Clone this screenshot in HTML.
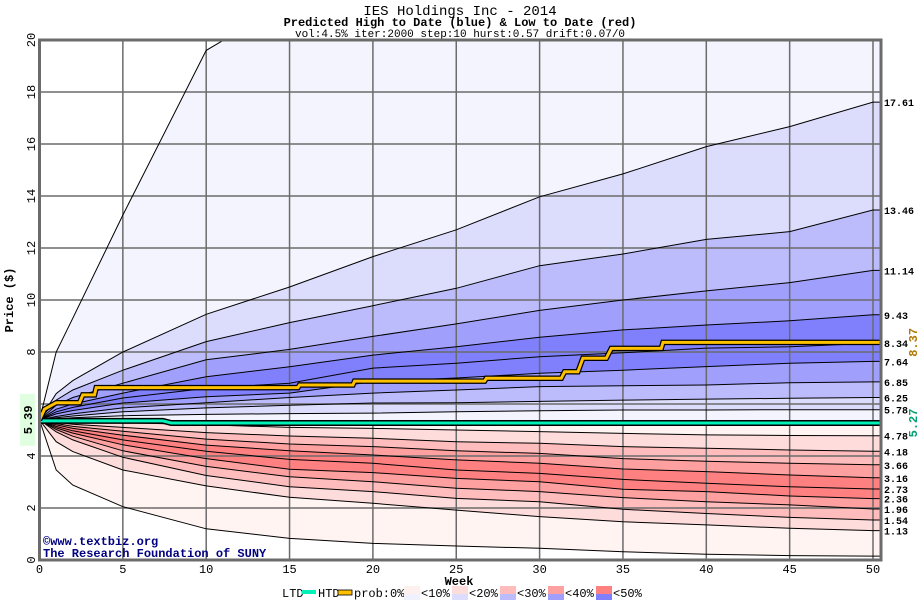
<!DOCTYPE html>
<html><head><meta charset="utf-8"><style>
body{margin:0;background:#fff;}
svg{display:block;font-family:"Liberation Mono","DejaVu Sans Mono",monospace;}
</style></head><body>
<svg id="chart" width="920" height="600" viewBox="0 0 920 600">
<defs><clipPath id="pc"><rect x="39.5" y="40" width="841.5" height="520"/></clipPath></defs>
<text x="460" y="15" text-anchor="middle" font-size="14">IES Holdings Inc - 2014</text>
<text x="460" y="26" text-anchor="middle" font-size="12" font-weight="bold">Predicted High to Date (blue) &amp;  Low to Date (red)</text>
<text x="460" y="37" text-anchor="middle" font-size="11">vol:4.5% iter:2000 step:10 hurst:0.57 drift:0.07/0</text>
<g id="bands" clip-path="url(#pc)"></g>
<g id="grid"></g>
<g id="lines" clip-path="url(#pc)"></g>
<g id="axes"></g>
<text transform="translate(13,300) rotate(-90)" text-anchor="middle" font-size="12" font-weight="bold">Price ($)</text>
<text x="459" y="585" text-anchor="middle" font-size="12" font-weight="bold">Week</text>
<text x="43" y="545" font-size="12" font-weight="bold" fill="#000080">©www.textbiz.org</text>
<text x="43" y="557" font-size="12" font-weight="bold" fill="#000080">The Research Foundation of SUNY</text>
<g id="legend"></g>
</svg>
<script>
const weeks=[0,1,2,5,10,15,20,25,30,35,40,45,50,50.5];
const upperMax=[5.39,8.0,9.3,13.27,19.6,21.5,23,24.5,26,27.5,29,30.5,32,32];
const upper1=[5.39,6.4,6.9,8.0,9.45,10.5,11.67,12.7,13.97,14.85,15.9,16.67,17.61,17.61];
const upper2=[5.39,6.15,6.54,7.3,8.4,9.13,9.78,10.45,11.32,11.77,12.33,12.63,13.46,13.46];
const upper3=[5.39,5.95,6.25,6.8,7.7,8.1,8.6,9.08,9.6,10.0,10.35,10.67,11.14,11.14];
const upper4=[5.39,5.8,6.0,6.42,7.05,7.43,7.88,8.2,8.57,8.85,9.04,9.2,9.43,9.43];
const upper5=[5.39,5.7,5.87,6.23,6.6,6.8,7.38,7.57,7.82,7.97,8.15,8.2,8.34,8.34];
const upper6=[5.39,5.62,5.75,6.04,6.28,6.42,6.86,7.0,7.18,7.3,7.44,7.57,7.64,7.64];
const upper7=[5.39,5.52,5.62,5.85,6.05,6.25,6.42,6.54,6.67,6.7,6.73,6.82,6.85,6.85];
const upper8=[5.39,5.47,5.54,5.7,5.85,5.95,6.04,6.05,6.1,6.15,6.19,6.22,6.25,6.25];
const upper9=[5.39,5.42,5.47,5.55,5.6,5.63,5.65,5.7,5.74,5.77,5.77,5.78,5.78,5.78];
const median=[5.39,5.34,5.33,5.33,5.33,5.33,5.33,5.33,5.33,5.33,5.33,5.33,5.33,5.33];
const lower1=[5.39,5.35,5.32,5.28,5.2,5.1,5.06,5.0,4.94,4.87,4.81,4.79,4.78,4.78];
const lower2=[5.39,5.3,5.22,5.1,4.9,4.77,4.68,4.55,4.49,4.36,4.3,4.23,4.18,4.18];
const lower3=[5.39,5.25,5.14,4.95,4.65,4.46,4.36,4.2,4.1,3.9,3.8,3.72,3.66,3.66];
const lower4=[5.39,5.2,5.06,4.8,4.42,4.2,4.04,3.85,3.72,3.5,3.4,3.27,3.16,3.16];
const lower5=[5.39,5.14,4.97,4.62,4.18,3.87,3.72,3.46,3.33,3.1,2.95,2.82,2.73,2.73];
const lower6=[5.39,5.08,4.88,4.43,3.9,3.49,3.36,3.14,3.01,2.72,2.63,2.46,2.36,2.36];
const lower7=[5.39,5.02,4.76,4.2,3.6,3.2,3.01,2.76,2.63,2.4,2.24,2.12,1.96,1.96];
const lower8=[5.39,4.93,4.62,3.95,3.25,2.82,2.63,2.37,2.24,1.95,1.79,1.64,1.54,1.54];
const lower9=[5.39,4.55,4.17,3.46,2.85,2.41,2.18,1.92,1.67,1.47,1.35,1.22,1.13,1.13];
const lowerMin=[5.39,3.46,2.88,2.05,1.2,0.83,0.64,0.54,0.45,0.32,0.22,0.17,0.15,0.15];
const ltdWeeks=[0,7.4,7.9,50.5];
const ltdValues=[5.35,5.35,5.27,5.27];
const htdWeeks=[0,0.3,1,2.4,2.6,3.3,3.4,15.5,15.6,18.8,18.9,26.7,26.8,31.3,31.5,32.3,32.6,34,34.3,37.3,37.4,50.5];
const htdValues=[5.39,5.8,6.05,6.05,6.35,6.35,6.63,6.63,6.73,6.73,6.88,6.88,6.99,6.99,7.24,7.24,7.76,7.76,8.14,8.14,8.37,8.37];
const xTicks=[0,5,10,15,20,25,30,35,40,45,50];
const yTicks=[0,2,4,6,8,10,12,14,16,18,20];
const rightLabels=["17.61","13.46","11.14","9.43","8.34","7.64","6.85","6.25","5.78","4.78","4.18","3.66","3.16","2.73","2.36","1.96","1.54","1.13"];
const legendLabels=["<10%","<20%","<30%","<40%","<50%"];

const NS="http://www.w3.org/2000/svg";
const X=w=>39.5+w*16.67, Y=v=>560-v*26;
function mk(tag,attrs,parent){const e=document.createElementNS(NS,tag);for(const k in attrs)e.setAttribute(k,attrs[k]);parent.appendChild(e);return e;}
const pts=(ws,vs)=>ws.map((w,i)=>X(w).toFixed(1)+","+Y(vs[i]).toFixed(1));
const ups=[upperMax,upper1,upper2,upper3,upper4,upper5,upper6,upper7,upper8,upper9,median];
const lows=[median,lower1,lower2,lower3,lower4,lower5,lower6,lower7,lower8,lower9,lowerMin];
const blue=["#f4f4ff","#dcdcfc","#bcbcfc","#a0a0fc","#8080fc","#8080fc","#a0a0fc","#bcbcfc","#dcdcfc","#f4f4ff"];
const red=["#fff4f2","#ffdcdc","#ffbcbc","#ffa0a0","#ff8080","#ff8080","#ffa0a0","#ffbcbc","#ffdcdc","#fff4f2"];
const bands=document.getElementById('bands');
function band(a,b,col,name){
  const p=pts(weeks,a).concat(pts(weeks,b).reverse());
  const e=mk('polygon',{points:p.join(' '),fill:col},bands);
  
  
}
for(let i=0;i<10;i++)band(ups[i],ups[i+1],blue[i],'high-band');
for(let i=0;i<10;i++)band(lows[i],lows[i+1],red[i],'low-band');
const grid=document.getElementById('grid');
xTicks.forEach(t=>{const l=mk('line',{x1:X(t),x2:X(t),y1:40,y2:560,stroke:'#6b6b6b','stroke-width':1.5},grid);
  
  });
yTicks.forEach(t=>{const l=mk('line',{x1:39.5,x2:881,y1:Y(t),y2:Y(t),stroke:'#6b6b6b','stroke-width':1.5},grid);
  
  });
const lines=document.getElementById('lines');
ups.concat(lows.slice(1)).forEach((s,i)=>{
  const l=mk('polyline',{points:pts(weeks,s).join(' '),fill:'none',stroke:'#000','stroke-width':1},lines);
  
  
});
let e=mk('polyline',{points:pts(ltdWeeks,ltdValues).join(' '),fill:'none',stroke:'#000','stroke-width':6},lines);


e=mk('polyline',{points:pts(ltdWeeks,ltdValues).join(' '),fill:'none',stroke:'#00f0b8','stroke-width':3},lines);


e=mk('polyline',{points:pts(htdWeeks,htdValues).join(' '),fill:'none',stroke:'#000','stroke-width':5.5},lines);


e=mk('polyline',{points:pts(htdWeeks,htdValues).join(' '),fill:'none',stroke:'#ffc000','stroke-width':3},lines);


const axes=document.getElementById('axes');
e=mk('rect',{x:39.5,y:40,width:841.5,height:520,fill:'none',stroke:'#6b6b6b','stroke-width':3},axes);


xTicks.forEach(t=>{const tx=mk('text',{x:X(t),y:573,'text-anchor':'middle','font-size':12},axes);tx.textContent=t;
  
  });
yTicks.forEach(t=>{const tx=mk('text',{transform:`translate(35,${Y(t)}) rotate(-90)`,'text-anchor':'middle','font-size':12},axes);tx.textContent=t;
  
  });
rightLabels.forEach(s=>{const v=parseFloat(s);const tx=mk('text',{x:884,y:Y(v)+4,'font-size':10,'font-weight':'bold'},axes);tx.textContent=s;
  
  });
e=mk('text',{transform:`translate(917,${Y(htdValues[htdValues.length-1])}) rotate(-90)`,'text-anchor':'middle','font-size':12,'font-weight':'bold',fill:'#b07800'},axes);
e.textContent=htdValues[htdValues.length-1].toFixed(2);


e=mk('text',{transform:`translate(917,${Y(ltdValues[ltdValues.length-1])}) rotate(-90)`,'text-anchor':'middle','font-size':12,'font-weight':'bold',fill:'#00a070'},axes);
e.textContent=ltdValues[ltdValues.length-1].toFixed(2);


e=mk('rect',{x:20,y:Y(5.39)-26,width:15,height:52,fill:'#e0ffe0'},axes);


e=mk('text',{transform:`translate(32,${Y(5.39)}) rotate(-90)`,'text-anchor':'middle','font-size':12,'font-weight':'bold',fill:'#000'},axes);
e.textContent="5.39";


const lg=document.getElementById('legend');
function lt(x,s,name){const t=mk('text',{x:x,y:597,'font-size':12},lg);t.textContent=s;}
lt(282,'LTD','legend-ltd-label');
e=mk('rect',{x:302,y:590,width:14,height:4,fill:'#00f0b8'},lg);


lt(318,'HTD','legend-htd-label');
e=mk('rect',{x:338,y:590,width:14,height:5,fill:'#ffc000',stroke:'#000','stroke-width':0.8},lg);


lt(354,'prob:0%<','legend-prob-label');
const lr=["#fff0f0","#ffdcdc","#ffbcbc","#ffa0a0","#ff8080"],lb=["#f0f0ff","#dcdcfc","#bcbcfc","#a0a0fc","#8080fc"];
legendLabels.forEach((s,i)=>{const x=404+i*48;
  let r=mk('rect',{x:x,y:586,width:16,height:8,fill:lr[i]},lg);
  
  
  r=mk('rect',{x:x,y:594,width:16,height:6,fill:lb[i]},lg);
  
  
  lt(x+17,s,'legend-entry');});
</script>
</body></html>
